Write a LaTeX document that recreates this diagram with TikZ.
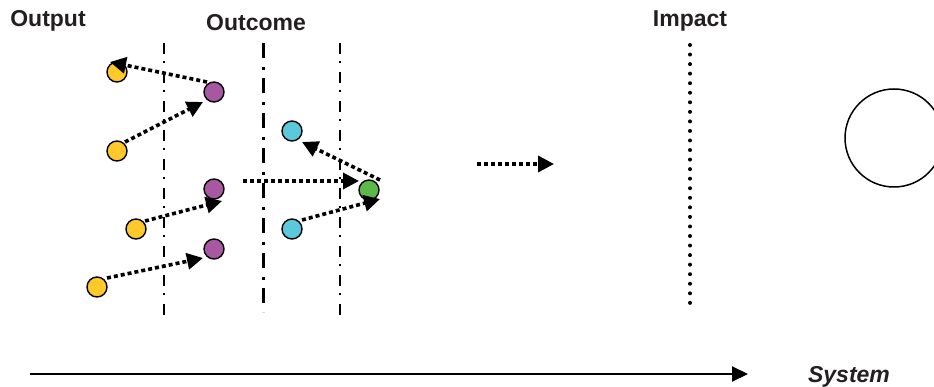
\documentclass[tikz,border=0pt]{standalone}
\usepackage{fontspec}
\setmainfont{Liberation Sans}
\usetikzlibrary{arrows.meta,calc}
\definecolor{cyel}{RGB}{255,201,44}
\definecolor{cpur}{RGB}{168,88,160}
\definecolor{ccya}{RGB}{92,200,220}
\definecolor{cgrn}{RGB}{92,184,72}
\definecolor{ctxt}{RGB}{35,31,32}
\begin{document}
\begin{tikzpicture}[x=1pt,y=-1pt,
  ball/.style={circle,draw=black,line width=1.4pt,minimum size=20pt,inner sep=0pt},
  flow/.style={line width=3.6pt,dash pattern=on 4pt off 3pt,-{Triangle[length=16pt,width=16pt]}},
  lab/.style={font=\fontsize{23}{26}\selectfont\bfseries,anchor=base,inner sep=0pt,text=ctxt},
  dashdotA/.style={line width=2pt,dash pattern=on 11pt off 7pt on 2pt off 9pt},
  dashdotB/.style={line width=3pt,dash pattern=on 15pt off 9pt on 3pt off 8pt}]
\useasboundingbox (0,0) rectangle (934,387);
\clip (0,0) rectangle (934,387);
% labels
\node[lab] (tout) at (48,27) {Output};
\node[lab] (tcome) at (256,31) {Outcome};
\node[lab] (timp) at (690,27) {Impact};
\node[lab,font=\fontsize{23}{26}\selectfont\bfseries\itshape] (tsys) at (849,382) {System};
% vertical separators
\draw[dashdotA] (164,43) -- (164,317);
\draw[dashdotB] (263,43) -- (263,312);
\draw[dashdotA] (340,43) -- (340,317);
\draw[line width=4pt,line cap=round,dash pattern=on 0pt off 9.55pt] (690,45) -- (690,304);
% circles
\node[ball,fill=cyel] (y1) at (117,72) {};
\node[ball,fill=cyel] (y2) at (117,151) {};
\node[ball,fill=cyel] (y3) at (136,229) {};
\node[ball,fill=cyel] (y4) at (97,287) {};
\node[ball,fill=cpur] (p1) at (214,92) {};
\node[ball,fill=cpur] (p2) at (214,189) {};
\node[ball,fill=cpur] (p3) at (214,249) {};
\node[ball,fill=ccya] (c1) at (292,131) {};
\node[ball,fill=ccya] (c2) at (292,229) {};
\node[ball,fill=cgrn] (g) at (369,190) {};
\node[circle,draw=black,line width=1.5pt,minimum size=98pt,inner sep=0pt] (big) at (894,138) {};
% flows
\draw[flow] ($(p1)+(-7,-10)$) -- ($(y1)+(-7,-10)$);
\draw[flow] ($(y2)+(8,-9)$) -- ($(p1)+(-11,10)$);
\draw[flow] ($(y3)+(9,-8)$) -- ($(p2)+(8,12)$);
\draw[flow] ($(y4)+(10,-9)$) -- ($(p3)+(-11,9)$);
\draw[flow] ($(p2)+(29,-8)$) -- ($(g)+(-10,-9)$);
\draw[flow] ($(g)+(11,-10)$) -- ($(c1)+(10,11)$);
\draw[flow] ($(c2)+(10,-9)$) -- ($(g)+(11,9)$);
\coordinate (ma) at (477,164);
\coordinate (mb) at (554,164);
\draw[flow] (ma) -- (mb);
% system axis
\coordinate (sa) at (30,374);
\coordinate (sb) at (748,374);
\draw[line width=2pt,-{Triangle[length=16pt,width=15pt]}] (sa) -- (sb);
\end{tikzpicture}
\end{document}
